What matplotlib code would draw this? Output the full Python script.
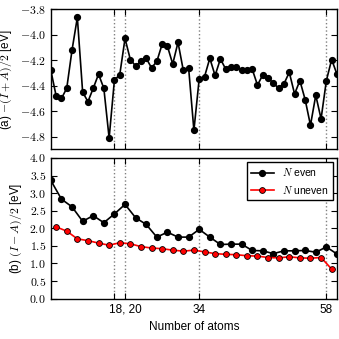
"""Ionisation/affinity average and gap vs number of atoms — two stacked panels."""

import matplotlib
matplotlib.use("Agg")
import matplotlib.pyplot as plt
from matplotlib.ticker import FuncFormatter

plt.rcParams["font.family"] = ["Liberation Sans", "DejaVu Sans"]
plt.rcParams["mathtext.fontset"] = "cm"
plt.rcParams["font.size"] = 8.5

# (a) -(I+A)/2 for every N from 6 to 60
N_ALL = list(range(6, 61))
MINUS_IA = [
    -4.28, -4.48, -4.50, -4.42, -4.12, -3.865, -4.45, -4.525, -4.42, -4.31,
    -4.42, -4.81, -4.355, -4.315, -4.03, -4.195, -4.245, -4.21, -4.185, -4.26,
    -4.21, -4.075, -4.09, -4.23, -4.06, -4.28, -4.26, -4.75, -4.345, -4.33,
    -4.185, -4.32, -4.19, -4.27, -4.25, -4.25, -4.275, -4.28, -4.27, -4.395,
    -4.315, -4.34, -4.38, -4.42, -4.385, -4.295, -4.465, -4.36, -4.51, -4.71,
    -4.475, -4.66, -4.36, -4.195, -4.31,
]

# (b) (I-A)/2, split by parity of N
N_EVEN = list(range(6, 61, 2))
GAP_EVEN = [
    3.36, 2.83, 2.61, 2.20, 2.36, 2.16, 2.41, 2.68, 2.30, 2.11, 1.75, 1.89,
    1.75, 1.75, 1.97, 1.75, 1.54, 1.55, 1.55, 1.37, 1.36, 1.28, 1.36, 1.36,
    1.37, 1.32, 1.47, 1.27,
]
N_ODD = list(range(7, 60, 2))
GAP_ODD = [
    2.04, 1.92, 1.70, 1.65, 1.58, 1.52, 1.59, 1.56, 1.48, 1.44, 1.42,
    1.38, 1.35, 1.38, 1.33, 1.28, 1.26, 1.25, 1.22, 1.21, 1.17, 1.16, 1.19,
    1.16, 1.15, 1.17, 0.84,
]

MARKED = [18, 20, 34, 58]
MARKED_LABELS = ["", "18, 20", "34", "58"]

fig = plt.figure(figsize=(3.39, 3.39), dpi=100)
ax_a = fig.add_axes([0.150, 0.559, 0.844, 0.414])
ax_b = fig.add_axes([0.150, 0.119, 0.844, 0.415])

math_fmt = FuncFormatter(lambda v, pos: f"${v:.1f}$")

for ax in (ax_a, ax_b):
    for n in MARKED:
        ax.axvline(n, color="0.5", linestyle=":", linewidth=1.0, zorder=1)
    ax.set_xlim(6, 60)
    ax.set_xticks(MARKED)
    ax.tick_params(direction="in", top=True, right=True, length=4, width=0.8)
    ax.yaxis.set_major_formatter(math_fmt)
    for sp in ax.spines.values():
        sp.set_linewidth(1.0)

ax_a.plot(N_ALL, MINUS_IA, "-o", color="k", linewidth=1.2, markersize=4.2, zorder=3)
ax_a.set_ylim(-4.9, -3.8)
ax_a.set_yticks([-4.8, -4.6, -4.4, -4.2, -4.0, -3.8])
ax_a.set_xticklabels([])
ax_a.set_ylabel(r"(a) $-(I+A)/2$ [eV]")

ax_b.plot(N_EVEN, GAP_EVEN, "-o", color="k", linewidth=1.2, markersize=4.2,
          label=r"$N$ even", zorder=3)
ax_b.plot(N_ODD, GAP_ODD, "-o", color="red", linewidth=1.2, markersize=4.2,
          markeredgecolor="k", markeredgewidth=0.6, label=r"$N$ uneven", zorder=3)
ax_b.set_ylim(0, 4.0)
ax_b.set_yticks([0.0, 0.5, 1.0, 1.5, 2.0, 2.5, 3.0, 3.5, 4.0])
ax_b.set_xticklabels(MARKED_LABELS)
ax_b.set_ylabel(r"(b) $(I-A)/2$ [eV]")
ax_b.set_xlabel("Number of atoms")
leg = ax_b.legend(loc="upper right", fontsize=7.5, fancybox=False, framealpha=1,
                  edgecolor="k", handlelength=2.2, borderaxespad=0.4)
leg.get_frame().set_linewidth(1.0)

fig.savefig("out.png", dpi=100)
